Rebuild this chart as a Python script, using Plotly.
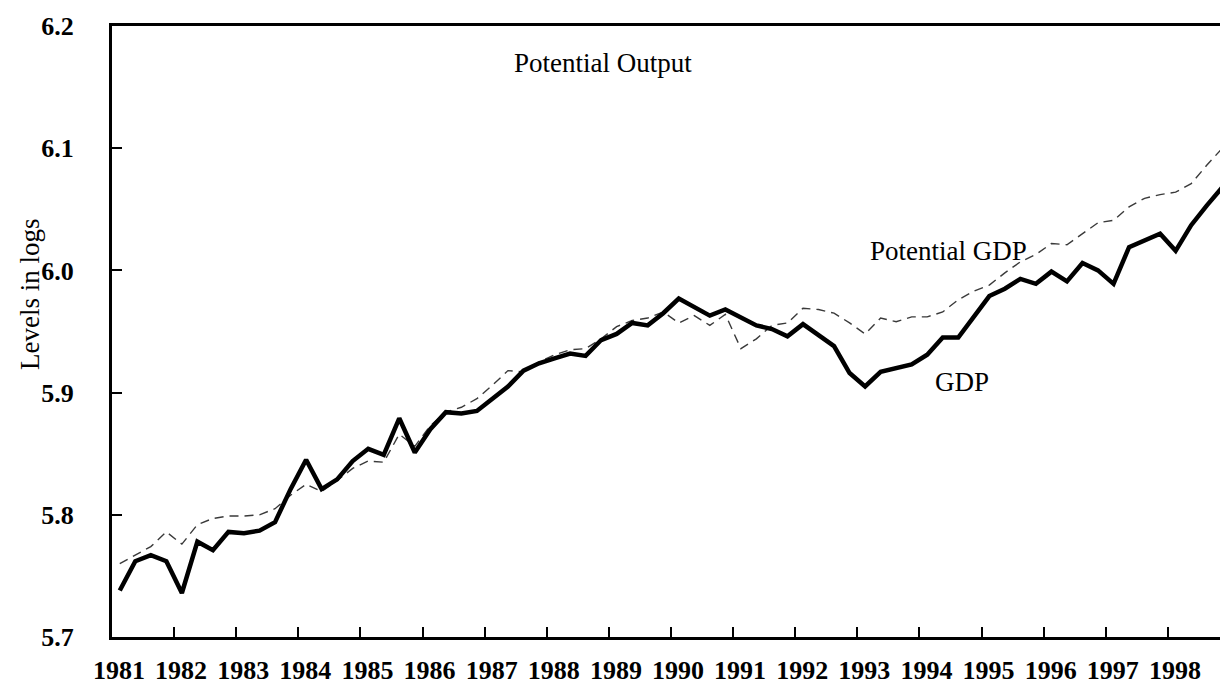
import plotly.graph_objects as go

# Quarterly observations, 1981Q1 .. 1998Q4 (plotted at mid-quarter)
years = list(range(1981, 1999))
quarter_x = [1981.125 + 0.25 * i for i in range(72)]

gdp = [
    5.738, 5.762, 5.767, 5.762, 5.736, 5.778, 5.771, 5.786,
    5.785, 5.787, 5.794, 5.821, 5.845, 5.821, 5.829, 5.844,
    5.854, 5.849, 5.879, 5.851, 5.870, 5.884, 5.883, 5.885,
    5.895, 5.905, 5.918, 5.924, 5.928, 5.932, 5.930, 5.943,
    5.948, 5.957, 5.955, 5.965, 5.977, 5.970, 5.963, 5.968,
    5.961, 5.955, 5.952, 5.946, 5.956, 5.947, 5.938, 5.916,
    5.905, 5.917, 5.920, 5.923, 5.931, 5.945, 5.945, 5.962,
    5.979, 5.985, 5.993, 5.989, 5.999, 5.991, 6.006, 6.000,
    5.989, 6.019, 6.025, 6.030, 6.016, 6.037, 6.053, 6.068,
]

potential_gdp = [
    5.760, 5.767, 5.774, 5.786, 5.776, 5.792, 5.797, 5.799,
    5.799, 5.800, 5.805, 5.816, 5.825, 5.819, 5.828, 5.838,
    5.844, 5.843, 5.866, 5.856, 5.873, 5.884, 5.888, 5.895,
    5.906, 5.918, 5.917, 5.925, 5.931, 5.935, 5.936, 5.944,
    5.954, 5.959, 5.961, 5.966, 5.957, 5.963, 5.955, 5.964,
    5.936, 5.944, 5.955, 5.957, 5.969, 5.968, 5.965, 5.957,
    5.948, 5.961, 5.958, 5.962, 5.962, 5.966, 5.976, 5.983,
    5.988, 5.998, 6.007, 6.013, 6.022, 6.021, 6.030, 6.039,
    6.041, 6.052, 6.059, 6.062, 6.064, 6.071, 6.086, 6.100,
]

y_ticks = [5.7, 5.8, 5.9, 6.0, 6.1, 6.2]

FONT = "Liberation Serif, Times New Roman, serif"

fig = go.Figure()
fig.add_trace(go.Scatter(
    x=quarter_x, y=potential_gdp, mode="lines", name="Potential GDP",
    line=dict(color="#3a3a3a", width=1.4, dash="9px,6px"),
))
fig.add_trace(go.Scatter(
    x=quarter_x, y=gdp, mode="lines", name="GDP",
    line=dict(color="black", width=4.5),
))

fig.add_annotation(x=1988.91, y=6.1697, text="Potential Output", showarrow=False,
                   font=dict(family=FONT, size=27, color="black"))
fig.add_annotation(x=1994.46, y=6.0156, text="Potential GDP", showarrow=False,
                   font=dict(family=FONT, size=27, color="black"))
fig.add_annotation(x=1994.69, y=5.909, text="GDP", showarrow=False,
                   font=dict(family=FONT, size=27, color="black"))
# y-axis title
fig.add_annotation(xref="paper", yref="paper", x=-0.0733, y=0.56,
                   text="Levels in logs", textangle=-90, showarrow=False,
                   xanchor="center", yanchor="middle",
                   font=dict(family=FONT, size=27, color="black"))

fig.update_layout(
    width=1228, height=690,
    margin=dict(l=104, r=6, t=18, b=61),
    paper_bgcolor="white", plot_bgcolor="white",
    showlegend=False,
    font=dict(family=FONT, size=26, color="black"),
)
fig.update_xaxes(
    range=[1981, 1999], tickvals=years, ticktext=["<b>%d</b>" % y for y in years],
    ticks="inside", ticklen=10, tickwidth=2, tickcolor="black",
    showline=True, linecolor="black", linewidth=3, mirror=True,
    showgrid=False, zeroline=False, automargin=False,
    ticklabelstandoff=8, ticklabelshift=7,
    tickfont=dict(family=FONT, size=26, color="black"),
)
fig.update_yaxes(
    range=[5.7, 6.2], tickvals=y_ticks, ticktext=["<b>%.1f</b>" % v for v in y_ticks],
    ticks="inside", ticklen=10, tickwidth=2, tickcolor="black",
    showline=True, linecolor="black", linewidth=3, mirror=True,
    showgrid=False, zeroline=False, automargin=False,
    ticklabelstandoff=30,
    tickfont=dict(family=FONT, size=26, color="black"),
)

fig.write_html("out.html")
